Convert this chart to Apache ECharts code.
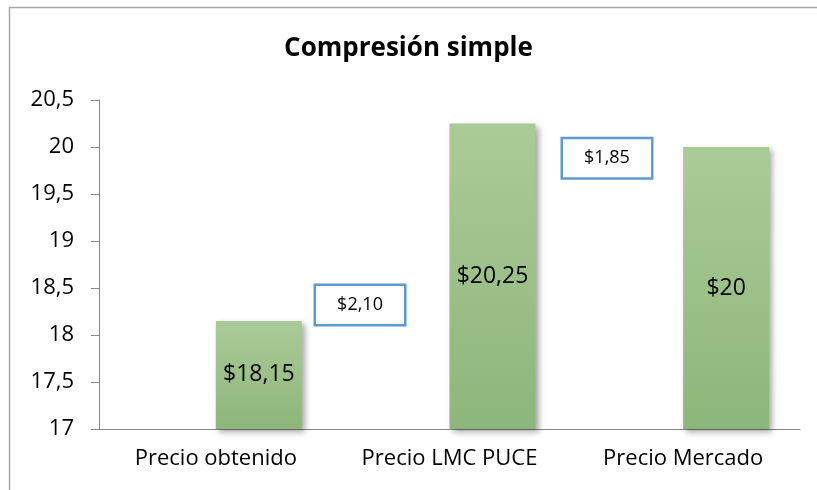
<!DOCTYPE html>
<html>
<head>
<meta charset="utf-8">
<script src="https://cdn.jsdelivr.net/npm/echarts@6/dist/echarts.min.js"></script>
<style>
  html, body { margin: 0; padding: 0; background: #fff; }
  #main { width: 817px; height: 490px; }
</style>
</head>
<body>
<div id="main"></div>
<script>
// datos del grafico
var categorias = ['Precio obtenido', 'Precio LMC PUCE', 'Precio Mercado'];
var precios = [18.15, 20.25, 20];
// cuadros de diferencia: [posicion x (en categorias), valor y, diferencia]
var difX = [1.117, 2.174];
var difY = [18.32, 19.88];
var diferencias = [2.10, 1.85];

var fuente = 'Open Sans';
var coma = function (v) { return String(v).replace('.', ','); };

var chart = echarts.init(document.getElementById('main'));

var option = {
  backgroundColor: '#fff',
  animation: false,
  title: {
    text: 'Compresión simple',
    left: 'center',
    top: 31,
    textStyle: { fontFamily: fuente, fontWeight: 'bold', fontSize: 26, color: '#000' }
  },
  grid: { left: 99, right: 17, top: 100, bottom: 61 },
  xAxis: [
    {
      type: 'category',
      data: categorias,
      axisLine: { lineStyle: { color: '#868686', width: 1 } },
      axisTick: { show: false },
      axisLabel: { fontFamily: fuente, fontSize: 22, color: '#000', margin: 19, interval: 0, hideOverlap: false }
    },
    {
      // eje oculto para colocar los cuadros de texto
      type: 'value', min: 0, max: 3, show: false
    }
  ],
  yAxis: {
    type: 'value',
    min: 17,
    max: 20.5,
    interval: 0.5,
    splitLine: { show: false },
    axisLine: { show: true, lineStyle: { color: '#868686', width: 1 } },
    axisTick: { show: true, length: 8, lineStyle: { color: '#868686' } },
    axisLabel: { fontFamily: fuente, fontSize: 22, color: '#000', margin: 25, formatter: coma }
  },
  series: [
    {
      // serie vacia, desplaza las barras a la derecha como en excel
      type: 'bar',
      data: [null, null, null],
      barWidth: 86,
      barGap: '0%'
    },
    {
      type: 'bar',
      data: precios,
      barWidth: 86,
      barGap: '0%',
      itemStyle: {
        color: new echarts.graphic.LinearGradient(0, 0, 0, 1, [
          { offset: 0, color: '#aacb98' },
          { offset: 1, color: '#8db67a' }
        ]),
        shadowBlur: 6,
        shadowOffsetX: 3,
        shadowOffsetY: 3,
        shadowColor: 'rgba(0,0,0,0.35)'
      },
      label: {
        show: true,
        position: 'inside',
        fontFamily: fuente,
        fontSize: 23,
        color: '#000',
        formatter: function (p) { return '$' + coma(p.value); }
      }
    },
    {
      // cuadros de texto con la diferencia
      type: 'scatter',
      xAxisIndex: 1,
      data: diferencias.map(function (d, i) { return [difX[i], difY[i], d]; }),
      symbolSize: 1,
      itemStyle: { color: 'rgba(0,0,0,0)', opacity: 1 },
      label: {
        show: true,
        position: 'inside',
        fontFamily: fuente,
        fontSize: 18,
        color: '#000',
        width: 88,
        height: 38,
        lineHeight: 38,
        align: 'center',
        backgroundColor: '#fff',
        borderColor: '#5b9bd5',
        borderWidth: 2.5,
        formatter: function (p) { return '$' + p.value[2].toFixed(2).replace('.', ','); }
      },
      z: 5
    }
  ],
  graphic: [
    {
      type: 'rect',
      shape: { x: 9.5, y: 7.5, width: 900, height: 600 },
      style: { fill: 'none', stroke: '#a6a6a6', lineWidth: 1.5 },
      silent: true
    }
  ]
};

option && chart.setOption(option);
</script>
</body>
</html>
